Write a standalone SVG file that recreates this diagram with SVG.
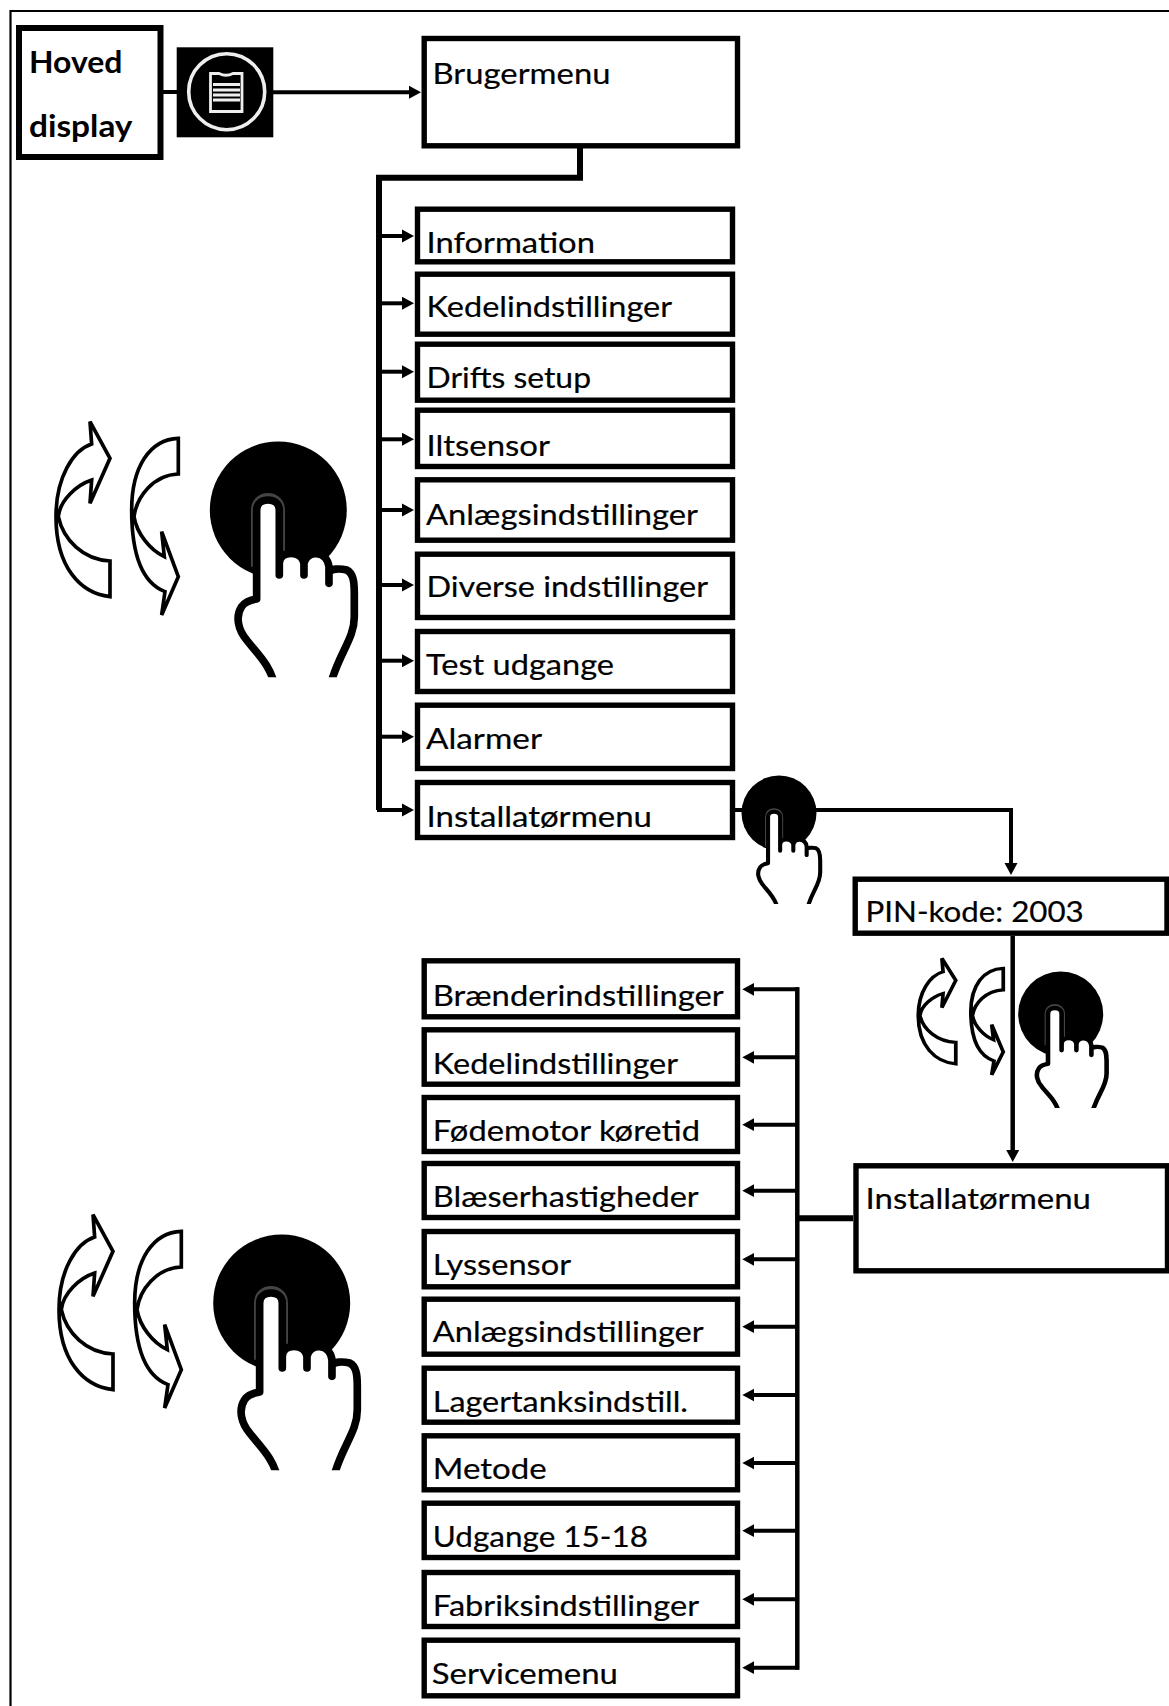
<svg xmlns="http://www.w3.org/2000/svg" width="1169" height="1706" viewBox="0 0 1169 1706">
<style>
.box{fill:#fff;stroke:#000;stroke-width:5.400}
.t{font-family:Lato,"Liberation Sans",sans-serif;font-size:29.500px;fill:#000;stroke:#000;stroke-width:.2}
.b{font-family:Lato,"Liberation Sans",sans-serif;font-size:31px;font-weight:700;fill:#000}
.c{fill:none;stroke:#000;stroke-width:4}
.a{marker-end:url(#ah)}
.ar{fill:#fff;stroke:#000;stroke-linejoin:miter}
</style>
<defs>
<marker id="ah" markerUnits="userSpaceOnUse" markerWidth="14" markerHeight="14" refX="2" refY="7" viewBox="0 0 14 14" orient="auto"><path d="M0,.5 L12,7 L0,13.500 Z" fill="#000"/></marker>
<clipPath id="cut"><rect x="500" y="200" width="600" height="632"/></clipPath>
<g id="hand" clip-path="url(#cut)">
<path d="M680,500 L680,330 C680,285 748,285 748,330 L748,460" fill="none" stroke="#444" stroke-width="34"/>
<path d="M735,860 C722,795 680,760 650,720 C625,690 615,650 635,620 C645,605 660,600 680,597 L680,330 C680,290 748,290 748,330 L748,525 L748,490 C750,450 815,450 822,490 L822,525 L822,490 C830,450 890,450 897,500 L897,550 L897,520 C900,505 930,505 950,510 C970,520 973,545 973,580 L973,650 C973,720 925,760 900,860" fill="#fff" stroke="#000" stroke-width="23" stroke-linejoin="round" stroke-linecap="round"/>
</g>
<g id="arrows">
<path class="ar" d="M240,590 C150,580 78,500 78,350 C78,230 130,150 185,132 L180,65 L240,175 L180,310 L185,240 C140,255 90,300 85,350 C100,420 160,480 240,483 Z"/>
<path class="ar" d="M445,115 C360,118 305,200 305,330 C305,470 340,550 405,575 L395,645 L445,530 L395,395 L403,470 C360,450 320,400 312,350 C320,290 370,225 445,222 Z"/>
</g>
</defs>
<rect width="1169" height="1706" fill="#fff"/>
<path id="frame" d="M10.500,1706 V11 H1169" fill="none" stroke="#000" stroke-width="2.200"/>
<g id="connectors">
<path class="c" d="M163,92 H177"/>
<path class="c a" d="M273,92.300 H411"/>
<path d="M580,148 V177.700 H379 V810" fill="none" stroke="#000" stroke-width="6"/>
<path class="c a" d="M379,236 H404"/><path class="c a" d="M379,303.300 H404"/><path class="c a" d="M379,371.700 H404"/><path class="c a" d="M379,439.300 H404"/><path class="c a" d="M379,510 H404"/><path class="c a" d="M379,585 H404"/><path class="c a" d="M379,660.700 H404"/><path class="c a" d="M379,736.700 H404"/><path class="c a" d="M377,810 H404"/>
<path class="c a" d="M735,810 H1011 V865"/>
<path class="c a" d="M1012.700,936 V1152" style="stroke-width:4.500"/>
<path d="M853,1218.300 H797" fill="none" stroke="#000" stroke-width="6"/>
<path d="M797.300,987.300 V1669.700" fill="none" stroke="#000" stroke-width="4.500"/>
<path class="c a" d="M799,989.300 H752.300"/><path class="c a" d="M797,1057.300 H752.300"/><path class="c a" d="M797,1124.700 H752.300"/><path class="c a" d="M797,1190.700 H752.300"/><path class="c a" d="M797,1259.300 H752.300"/><path class="c a" d="M797,1326.700 H752.300"/><path class="c a" d="M797,1395 H752.300"/><path class="c a" d="M797,1463 H752.300"/><path class="c a" d="M797,1530.700 H752.300"/><path class="c a" d="M797,1599.300 H752.300"/><path class="c a" d="M799,1667.700 H752.300"/>
</g>
<g id="hoved"><rect x="19" y="28" width="141.500" height="129" fill="#fff" stroke="#000" stroke-width="6"/>
<text class="b" x="29" y="72.700" textLength="93.500" lengthAdjust="spacingAndGlyphs">Hoved</text>
<text class="b" x="29" y="136.700" textLength="103.500" lengthAdjust="spacingAndGlyphs">display</text></g>
<g id="menu-icon"><rect x="176.700" y="47.300" width="96.600" height="90" fill="#000"/>
<circle cx="226.700" cy="91.700" r="38" fill="none" stroke="#eee" stroke-width="3.600"/>
<path d="M210.500,73.500 H219 Q226,77 233,73.500 H242 V111.500 H210.500 Z" fill="none" stroke="#eee" stroke-width="2.800"/>
<path d="M213,84.500 H240 M213,90 H240 M213,95 H240 M213,100 H240" fill="none" stroke="#eee" stroke-width="3"/></g>
<g id="brugermenu"><rect class="box" x="424.200" y="38.500" width="313.300" height="107.300"/><text class="t" x="432.500" y="83.500" textLength="178" lengthAdjust="spacingAndGlyphs">Brugermenu</text></g>
<g id="u1"><rect class="box" x="417.500" y="209.200" width="315" height="52.600"/><text class="t" x="426.500" y="253" textLength="168.500" lengthAdjust="spacingAndGlyphs">Information</text></g>
<g id="u2"><rect class="box" x="417.500" y="274.200" width="315" height="60"/><text class="t" x="426.500" y="317" textLength="245.500" lengthAdjust="spacingAndGlyphs">Kedelindstillinger</text></g>
<g id="u3"><rect class="box" x="417.500" y="344.200" width="315" height="56"/><text class="t" x="426.500" y="388" textLength="164.500" lengthAdjust="spacingAndGlyphs">Drifts setup</text></g>
<g id="u4"><rect class="box" x="417.500" y="410.200" width="315" height="56.300"/><text class="t" x="426.500" y="456" textLength="123.500" lengthAdjust="spacingAndGlyphs">Iltsensor</text></g>
<g id="u5"><rect class="box" x="417.500" y="479.800" width="315" height="60.400"/><text class="t" x="426" y="525.300" textLength="272" lengthAdjust="spacingAndGlyphs">Anlægsindstillinger</text></g>
<g id="u6"><rect class="box" x="417.500" y="554.200" width="315" height="63.300"/><text class="t" x="426.500" y="597" textLength="281.500" lengthAdjust="spacingAndGlyphs">Diverse indstillinger</text></g>
<g id="u7"><rect class="box" x="417.500" y="631.500" width="315" height="60"/><text class="t" x="426" y="674.500" textLength="188" lengthAdjust="spacingAndGlyphs">Test udgange</text></g>
<g id="u8"><rect class="box" x="417.500" y="705.200" width="315" height="63.300"/><text class="t" x="426" y="748.500" textLength="116" lengthAdjust="spacingAndGlyphs">Alarmer</text></g>
<g id="u9"><rect class="box" x="417.500" y="782.500" width="315" height="55"/><text class="t" x="426.500" y="827" textLength="225.500" lengthAdjust="spacingAndGlyphs">Installatørmenu</text></g>
<g id="l1"><rect class="box" x="424.200" y="960.800" width="313.300" height="56"/><text class="t" x="432.800" y="1005.500" textLength="291" lengthAdjust="spacingAndGlyphs">Brænderindstillinger</text></g>
<g id="l2"><rect class="box" x="424.200" y="1029.800" width="313.300" height="54.400"/><text class="t" x="432.800" y="1073.800" textLength="245.200" lengthAdjust="spacingAndGlyphs">Kedelindstillinger</text></g>
<g id="l3"><rect class="box" x="424.200" y="1097.500" width="313.300" height="54"/><text class="t" x="432.800" y="1141" textLength="267.200" lengthAdjust="spacingAndGlyphs">Fødemotor køretid</text></g>
<g id="l4"><rect class="box" x="424.200" y="1163.500" width="313.300" height="54"/><text class="t" x="432.800" y="1207" textLength="265.900" lengthAdjust="spacingAndGlyphs">Blæserhastigheder</text></g>
<g id="l5"><rect class="box" x="424.200" y="1231.500" width="313.300" height="55.300"/><text class="t" x="432.800" y="1275.300" textLength="138.200" lengthAdjust="spacingAndGlyphs">Lyssensor</text></g>
<g id="l6"><rect class="box" x="424.200" y="1299.200" width="313.300" height="55"/><text class="t" x="432.800" y="1342" textLength="270.900" lengthAdjust="spacingAndGlyphs">Anlægsindstillinger</text></g>
<g id="l7"><rect class="box" x="424.200" y="1368.200" width="313.300" height="54"/><text class="t" x="432.800" y="1411.500" textLength="255.200" lengthAdjust="spacingAndGlyphs">Lagertanksindstill.</text></g>
<g id="l8"><rect class="box" x="424.200" y="1435.800" width="313.300" height="54"/><text class="t" x="432.800" y="1479" textLength="113.900" lengthAdjust="spacingAndGlyphs">Metode</text></g>
<g id="l9"><rect class="box" x="424.200" y="1503.200" width="313.300" height="54.300"/><text class="t" x="432.800" y="1547" textLength="215.200" lengthAdjust="spacingAndGlyphs">Udgange 15-18</text></g>
<g id="l10"><rect class="box" x="424.200" y="1572.500" width="313.300" height="54"/><text class="t" x="432.800" y="1616" textLength="266.200" lengthAdjust="spacingAndGlyphs">Fabriksindstillinger</text></g>
<g id="l11"><rect class="box" x="424.200" y="1640.200" width="313.300" height="55.600"/><text class="t" x="431.800" y="1683.800" textLength="186.200" lengthAdjust="spacingAndGlyphs">Servicemenu</text></g>
<g id="pin"><rect class="box" x="855.200" y="879.200" width="311.800" height="54"/><text class="t" x="865.500" y="922.300" textLength="218.200" lengthAdjust="spacingAndGlyphs">PIN-kode: 2003</text></g>
<g id="installator"><rect class="box" x="856" y="1165.800" width="311.500" height="105"/><text class="t" x="865.500" y="1209.300" textLength="225.500" lengthAdjust="spacingAndGlyphs">Installatørmenu</text></g>
<g id="rotate-push-1">
<use href="#arrows" transform="translate(30,400) scale(.3333)" stroke-width="11"/>
<circle cx="278.300" cy="510" r="68.500"/>
<use href="#hand" transform="translate(30,400) scale(.3333)"/></g>
<g id="rotate-push-2">
<use href="#arrows" transform="translate(33,1193) scale(.3333)" stroke-width="11"/>
<circle cx="281.700" cy="1303" r="68.500"/>
<use href="#hand" transform="translate(33,1193) scale(.3333)"/></g>
<g id="push-3">
<circle cx="779" cy="813" r="37.500"/>
<use href="#hand" transform="translate(647,759.700) scale(.178,.1735)"/></g>
<g id="rotate-push-4">
<use href="#arrows" transform="translate(900.200,945.200) scale(.2316,.2012)" stroke-width="16"/>
<circle cx="1060.700" cy="1014" r="42.500"/>
<use href="#hand" transform="translate(912,951.600) scale(.2,.188)"/></g>
</svg>
